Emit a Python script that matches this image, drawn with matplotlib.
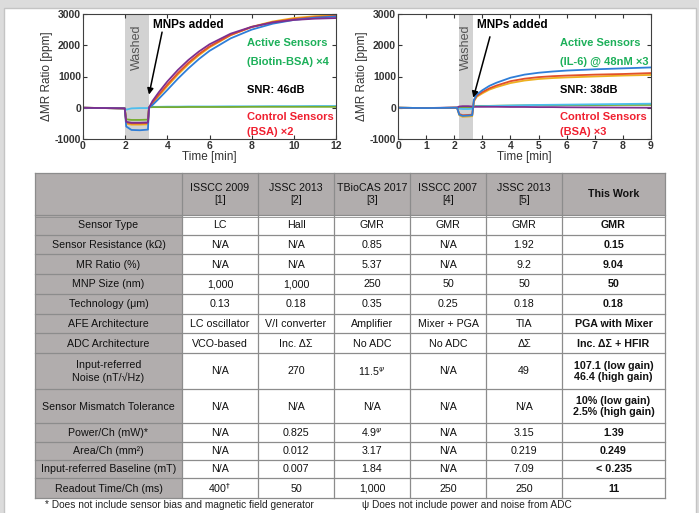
import matplotlib
matplotlib.use('Agg')
import matplotlib.pyplot as plt
from matplotlib.patches import Rectangle
from matplotlib import font_manager as fm

names = {f.name for f in fm.fontManager.ttflist}
NARROW = 'Liberation Sans Narrow' if 'Liberation Sans Narrow' in names else 'Liberation Sans'
plt.rcParams['font.family'] = ['Liberation Sans', 'DejaVu Sans']
plt.rcParams['axes.unicode_minus'] = False

# ---------------- data: left plot (Biotin-BSA) ----------------
L_t = [0, 1.0, 1.98, 2.05, 2.3, 2.7, 3.08, 3.13, 3.3, 3.6, 4.0, 4.5, 5.0, 5.5, 6.0, 7.0, 8.0, 9.0, 10.0, 11.0, 12.0]
L_purple = [0, -10, -20, -450, -480, -480, -470, 0, 220, 500, 840, 1210, 1530, 1800, 2030, 2370, 2590, 2730, 2810, 2850, 2870]
L_red    = [0, -10, -20, -470, -500, -500, -490, 0, 170, 420, 740, 1110, 1440, 1720, 1960, 2330, 2580, 2740, 2840, 2900, 2940]
L_yellow = [0, -10, -20, -510, -540, -540, -530, 0, 140, 380, 690, 1060, 1390, 1680, 1930, 2320, 2590, 2760, 2870, 2930, 2960]
L_blue   = [0, -10, -20, -600, -710, -720, -700, 0, 90, 290, 570, 930, 1260, 1560, 1820, 2220, 2500, 2690, 2810, 2880, 2920]
L_green  = [0, -10, -20, -370, -390, -390, -380, 10, 20, 20, 20, 20, 25, 25, 25, 25, 30, 30, 30, 30, 30]
L_cyan   = [0, -10, -20, -60, -20, -10, -10, 20, 30, 30, 35, 35, 40, 40, 40, 45, 45, 50, 50, 55, 55]
L_wash = (2.0, 3.13)

# ---------------- data: right plot (IL-6) ----------------
R_t = [0, 1.0, 2.1, 2.18, 2.3, 2.5, 2.64, 2.7, 2.8, 3.0, 3.25, 3.5, 4.0, 4.5, 5.0, 5.5, 6.0, 7.0, 8.0, 9.0]
R_blue   = [0, -10, 0, -220, -260, -250, -240, 250, 420, 560, 700, 800, 960, 1060, 1120, 1160, 1190, 1230, 1260, 1290]
R_red    = [0, -10, 0, -200, -240, -230, -220, 230, 380, 500, 620, 710, 850, 930, 980, 1010, 1030, 1060, 1080, 1110]
R_yellow = [0, -10, 0, -240, -290, -280, -270, 200, 350, 460, 580, 660, 790, 870, 920, 950, 970, 1000, 1030, 1050]
R_cyan   = [0, -10, 0, -30, -40, -40, -30, 40, 50, 50, 55, 60, 70, 80, 90, 95, 100, 110, 120, 130]
R_green  = [0, -10, 0, 10, 10, 10, 10, 50, 60, 60, 60, 65, 70, 75, 80, 80, 85, 85, 90, 90]
R_purple = [0, -10, 10, 40, 50, 50, 40, 30, 30, 30, 30, 30, 25, 25, 20, 20, 15, 10, 5, 0]
R_wash = (2.17, 2.67)

# ---------------- data: table ----------------
col_headers = ["ISSCC 2009\n[1]", "JSSC 2013\n[2]", "TBioCAS 2017\n[3]", "ISSCC 2007\n[4]", "JSSC 2013\n[5]", "This Work"]
row_labels = ["Sensor Type", "Sensor Resistance (k\u03a9)", "MR Ratio (%)", "MNP Size (nm)", "Technology (\u03bcm)",
              "AFE Architecture", "ADC Architecture", "Input-referred\nNoise (nT/\u221aHz)", "Sensor Mismatch Tolerance",
              "Power/Ch (mW)*", "Area/Ch (mm\u00b2)", "Input-referred Baseline (mT)", "Readout Time/Ch (ms)"]
col_isscc09 = ["LC", "N/A", "N/A", "1,000", "0.13", "LC oscillator", "VCO-based", "N/A", "N/A", "N/A", "N/A", "N/A", r"400$^{\dagger}$"]
col_jssc13a = ["Hall", "N/A", "N/A", "1,000", "0.18", "V/I converter", "Inc. \u0394\u03a3", "270", "N/A", "0.825", "0.012", "0.007", "50"]
col_tbiocas = ["GMR", "0.85", "5.37", "250", "0.35", "Amplifier", "No ADC", r"11.5$^{\psi}$", "N/A", r"4.9$^{\psi}$", "3.17", "1.84", "1,000"]
col_isscc07 = ["GMR", "N/A", "N/A", "50", "0.25", "Mixer + PGA", "No ADC", "N/A", "N/A", "N/A", "N/A", "N/A", "250"]
col_jssc13b = ["GMR", "1.92", "9.2", "50", "0.18", "TIA", "\u0394\u03a3", "49", "N/A", "3.15", "0.219", "7.09", "250"]
col_thiswork = ["GMR", "0.15", "9.04", "50", "0.18", "PGA with Mixer", "Inc. \u0394\u03a3 + HFIR",
                "107.1 (low gain)\n46.4 (high gain)", "10% (low gain)\n2.5% (high gain)", "1.39", "0.249", "< 0.235", "11"]
footnote1 = "* Does not include sensor bias and magnetic field generator"
footnote2 = "\u03c8 Does not include power and noise from ADC"

W, H = 699, 513
fig = plt.figure(figsize=(W / 100, H / 100), dpi=100)
fig.patch.set_facecolor('#dcdcdc')

# background / table axes in pixel coordinates
bg = fig.add_axes([0, 0, 1, 1])
bg.set_xlim(0, W)
bg.set_ylim(H, 0)
bg.axis('off')
bg.add_patch(Rectangle((4, 8), 692, 510, facecolor='white', edgecolor='#c4c4c4', lw=1))

# table geometry (pixels)
xb = [35, 182, 258, 334, 410, 486, 562, 665]
yb = [173, 215, 234.7, 254.4, 274.1, 293.8, 313.5, 333.2, 353, 389, 423, 442, 460, 478, 498]
GRAY = '#b1adad'
bg.add_patch(Rectangle((xb[0], yb[0]), xb[-1] - xb[0], yb[1] - yb[0], facecolor=GRAY, edgecolor='none'))
bg.add_patch(Rectangle((xb[0], yb[1]), xb[1] - xb[0], yb[-1] - yb[1], facecolor=GRAY, edgecolor='none'))
for y in yb:
    bg.plot([xb[0], xb[-1]], [y, y], color='#8c8c8c', lw=0.9)
for x in xb:
    bg.plot([x, x], [yb[0], yb[-1]], color='#8c8c8c', lw=0.9)
bg.plot([xb[0], xb[-1]], [yb[1] + 1.5, yb[1] + 1.5], color='#8c8c8c', lw=0.6)

TFS = 7.7
FAM = [NARROW, 'DejaVu Sans']
columns = [col_isscc09, col_jssc13a, col_tbiocas, col_isscc07, col_jssc13b, col_thiswork]
for j, hdr in enumerate(col_headers):
    cx = (xb[j + 1] + xb[j + 2]) / 2
    cy = (yb[0] + yb[1]) / 2
    bold = (j == len(col_headers) - 1)
    bg.text(cx, cy, hdr, ha='center', va='center', fontsize=TFS, family=FAM,
            fontweight='bold' if bold else 'normal', color='#111111', linespacing=1.2)
for i, lab in enumerate(row_labels):
    cy = (yb[i + 1] + yb[i + 2]) / 2
    bg.text((xb[0] + xb[1]) / 2, cy + 0.5, lab, ha='center', va='center', fontsize=TFS,
            family=FAM, color='#111111', linespacing=1.2)
    for j, col in enumerate(columns):
        cx = (xb[j + 1] + xb[j + 2]) / 2
        bold = (j == len(columns) - 1)
        bg.text(cx, cy + 0.5, col[i], ha='center', va='center', fontsize=TFS,
                family=FAM, fontweight='bold' if bold else 'normal',
                color='#111111', linespacing=1.2)
bg.text(45, 500.5, footnote1, ha='left', va='top', fontsize=7.3, family=FAM, color='#222222')
bg.text(362, 500.5, footnote2, ha='left', va='top', fontsize=7.3, family=FAM, color='#222222')

# ---------------- plots ----------------
C_PURPLE = '#7E2F8E'
C_RED = '#E2502A'
C_YELLOW = '#EDB120'
C_BLUE = '#2F7ED8'
C_GREEN = '#77AC30'
C_CYAN = '#4DBEEE'
TXT_GREEN = '#1DB05A'
TXT_RED = '#F02030'


def style_axes(ax, xmax, xstep):
    ax.set_ylim(-1000, 3000)
    ax.set_xlim(0, xmax)
    ax.set_yticks([-1000, 0, 1000, 2000, 3000])
    ax.set_xticks(list(range(0, xmax + 1, xstep)))
    ax.tick_params(direction='in', top=True, right=True, length=3, width=0.8,
                   labelsize=7.5, colors='#333333', pad=1.5)
    for lbl in ax.get_xticklabels() + ax.get_yticklabels():
        lbl.set_fontweight('bold')
    for s in ax.spines.values():
        s.set_color('#404040')
        s.set_linewidth(0.8)
    ax.set_xlabel('Time [min]', fontsize=8.5, color='#333333', labelpad=0)
    ax.set_ylabel('\u0394MR Ratio [ppm]', fontsize=8.5, color='#333333', labelpad=1)


def draw(ax, t, series, wash, xmax, xstep):
    ax.axvspan(wash[0], wash[1], color='#d2d2d2', lw=0, zorder=0)
    ax.text((wash[0] + wash[1]) / 2, 1950, 'Washed', rotation=90, ha='center', va='center',
            fontsize=9, color='#555555', zorder=1)
    for vals, c in series:
        ax.plot(t, vals, color=c, lw=1.3, zorder=2)
    style_axes(ax, xmax, xstep)


axL = fig.add_axes([83 / W, (H - 139) / H, 253 / W, 125 / H])
draw(axL, L_t, [(L_cyan, C_CYAN), (L_green, C_GREEN), (L_yellow, C_YELLOW), (L_red, C_RED),
                (L_blue, C_BLUE), (L_purple, C_PURPLE)], L_wash, 12, 2)
axL.annotate('', xy=(3.13, 420), xytext=(3.75, 2420),
             arrowprops=dict(arrowstyle='-|>', color='black', lw=1.1, mutation_scale=9, shrinkA=0, shrinkB=0))
axL.text(3.3, 2650, 'MNPs added', fontsize=8.5, fontweight='bold', ha='left', va='center')
axL.text(7.8, 2080, 'Active Sensors', fontsize=8, fontweight='bold', color=TXT_GREEN, ha='left', va='center')
axL.text(7.8, 1470, '(Biotin-BSA) \u00d74', fontsize=8, fontweight='bold', color=TXT_GREEN, ha='left', va='center')
axL.text(7.8, 570, 'SNR: 46dB', fontsize=8, fontweight='bold', color='black', ha='left', va='center')
axL.text(7.8, -290, 'Control Sensors', fontsize=8, fontweight='bold', color=TXT_RED, ha='left', va='center')
axL.text(7.8, -770, '(BSA) \u00d72', fontsize=8, fontweight='bold', color=TXT_RED, ha='left', va='center')

axR = fig.add_axes([398 / W, (H - 139) / H, 253 / W, 125 / H])
draw(axR, R_t, [(R_green, C_GREEN), (R_cyan, C_CYAN), (R_purple, C_PURPLE), (R_yellow, C_YELLOW),
                (R_red, C_RED), (R_blue, C_BLUE)], R_wash, 9, 1)
axR.annotate('', xy=(2.68, 320), xytext=(3.27, 2270),
             arrowprops=dict(arrowstyle='-|>', color='black', lw=1.1, mutation_scale=9, shrinkA=0, shrinkB=0))
axR.text(2.8, 2650, 'MNPs added', fontsize=8.5, fontweight='bold', ha='left', va='center')
axR.text(5.76, 2080, 'Active Sensors', fontsize=8, fontweight='bold', color=TXT_GREEN, ha='left', va='center')
axR.text(5.76, 1470, '(IL-6) @ 48nM \u00d73', fontsize=8, fontweight='bold', color=TXT_GREEN, ha='left', va='center')
axR.text(5.76, 570, 'SNR: 38dB', fontsize=8, fontweight='bold', color='black', ha='left', va='center')
axR.text(5.76, -290, 'Control Sensors', fontsize=8, fontweight='bold', color=TXT_RED, ha='left', va='center')
axR.text(5.76, -770, '(BSA) \u00d73', fontsize=8, fontweight='bold', color=TXT_RED, ha='left', va='center')

fig.savefig('out.png', dpi=100, facecolor=fig.get_facecolor())
